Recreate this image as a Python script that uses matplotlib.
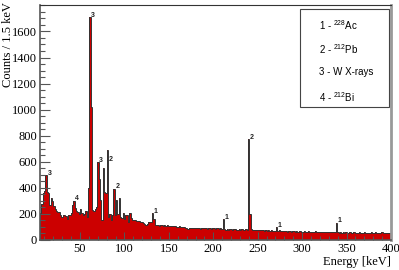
import numpy as np
import matplotlib
matplotlib.use('Agg')
import matplotlib.pyplot as plt
from matplotlib.patches import Rectangle

# Spectrum: counts per 1.5 keV bin, starting at 5 keV
bin_start = 5.0
bin_width = 1.5
counts = [
    210, 280, 360, 375, 495, 365, 360, 270, 320, 300,
    260, 235, 220, 215, 218, 195, 180, 190, 188, 185,
    160, 190, 195, 210, 265, 300, 245, 225, 215, 200,
    240, 210, 195, 200, 220, 180, 400, 1710, 1020, 230,
    220, 240, 250, 595, 470, 305, 155, 550, 370, 360,
    690, 180, 200, 155, 195, 395, 190, 310, 200, 325,
    175, 165, 205, 160, 195, 190, 140, 205, 165, 150,
    155, 150, 148, 145, 145, 140, 135, 128, 122, 115,
    125, 140, 140, 140, 205, 160, 115, 112, 118, 110,
    113, 115, 108, 112, 110, 114, 108, 110, 106, 108,
    104, 107, 103, 100, 105, 98, 100, 96, 99, 95,
    82, 88, 92, 95, 90, 93, 89, 94, 90, 92,
    88, 91, 95, 89, 92, 86, 90, 93, 88, 90,
    92, 87, 90, 94, 88, 91, 86, 160, 88, 80,
    84, 78, 82, 86, 79, 81, 85, 78, 80, 83,
    77, 81, 79, 76, 82, 80, 775, 200, 82, 78,
    80, 75, 79, 77, 74, 78, 73, 76, 72, 75,
    70, 74, 71, 73, 69, 72, 70, 100, 68, 75,
    72, 70, 66, 69, 72, 65, 68, 70, 64, 67,
    69, 65, 68, 63, 66, 70, 64, 62, 66, 65,
    63, 67, 64, 62, 65, 61, 66, 63, 60, 64,
    62, 65, 60, 63, 61, 64, 59, 62, 60, 63,
    61, 65, 133, 62, 57, 60, 56, 59, 55, 58,
    57, 54, 60, 56, 55, 58, 53, 57, 56, 59,
    55, 57, 54, 58, 56, 53, 57, 55, 59, 54,
    56, 58, 53, 57, 55, 54, 58, 56, 53, 57,
    55, 54, 56, 55,
]

# Peak labels: bin index and label text
peak_bins = [4, 25, 37, 43, 50, 55, 84, 137, 156, 177, 222]
peak_texts = ['3', '4', '3', '3', '2', '2', '1', '1', '2', '1', '1']

legend_lines = [r'1 - $^{228}$Ac', r'2 - $^{212}$Pb', '3 - W X-rays', r'4 - $^{212}$Bi']

plt.rcParams['mathtext.fontset'] = 'custom'
plt.rcParams['mathtext.rm'] = 'Liberation Sans'
plt.rcParams['mathtext.default'] = 'rm'

counts = np.array(counts, dtype=float)
edges = bin_start + bin_width * np.arange(len(counts) + 1)

fig = plt.figure(figsize=(3.99, 2.70), dpi=100)
ax = fig.add_axes([40/399, 30/270, 351/399, 235/270])

ax.stairs(counts, edges, fill=True, facecolor='#cc0000', edgecolor='none')
ax.stairs(counts, edges, color='#333333', linewidth=0.7)

ax.set_xlim(5, 400)
ax.set_ylim(0, 1803)

ax.set_xticks([50, 100, 150, 200, 250, 300, 350, 400])
ax.set_xticks(np.arange(10, 400, 10), minor=True)
ax.set_yticks(np.arange(0, 1601, 200))
ax.set_yticks(np.arange(0, 1801, 50), minor=True)

ax.tick_params(axis='both', which='both', direction='in', color='#555555')
ax.tick_params(axis='y', which='major', length=7, width=0.8)
ax.tick_params(axis='y', which='minor', length=3.6, width=0.8)
ax.tick_params(axis='x', which='major', length=6, width=0.8)
ax.tick_params(axis='x', which='minor', length=3, width=0.8)
ax.tick_params(axis='both', labelsize=9, pad=2)
for lab in ax.get_xticklabels() + ax.get_yticklabels():
    lab.set_family('Liberation Serif')

for side in ['left', 'bottom']:
    ax.spines[side].set_color('#555555')
    ax.spines[side].set_linewidth(1.2)
ax.spines['right'].set_color('#999999')
ax.spines['right'].set_linewidth(2)
ax.spines['top'].set_color('#333333')
ax.spines['top'].set_linewidth(0.8)

# peak annotations
for b, t in zip(peak_bins, peak_texts):
    xr = edges[b + 1]
    dy = -70 if (b == 50) else 15
    ax.text(xr + 0.8, counts[b] + dy, t, fontsize=5, fontweight='bold',
            family='Liberation Sans', ha='left', va='center', color='#222222')

fig.text(8/399, 1 - 2/270, 'Counts / 1.5 keV', rotation=90, ha='center', va='top',
         fontsize=9, family='Liberation Serif')
fig.text(391/399, 8/270, 'Energy [keV]', ha='right', va='center',
         fontsize=9, family='Liberation Serif')

# legend box
fig.patches.append(Rectangle((300/399, 1 - 107/270), 89/399, 98/270,
                             transform=fig.transFigure, facecolor='white',
                             edgecolor='#444444', linewidth=0.8, zorder=5))
for i, line in enumerate(legend_lines):
    ypix = [25, 49, 72, 97][i]
    fig.text(319/399, 1 - ypix/270, line, ha='left', va='center', fontsize=7,
             family='Liberation Sans', zorder=6)

fig.savefig('out.png', dpi=100)
